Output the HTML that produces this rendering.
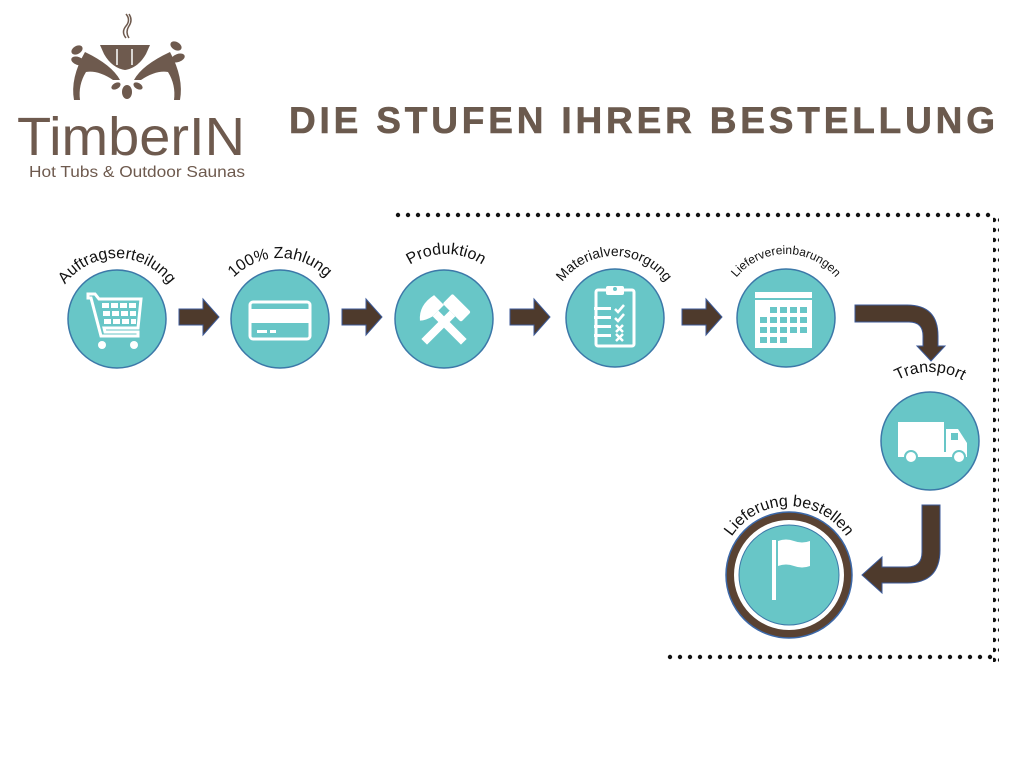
<!DOCTYPE html>
<html><head><meta charset="utf-8"><style>
html,body{margin:0;padding:0;background:#fff;width:1024px;height:768px;overflow:hidden}
svg{display:block}
</style></head><body>
<svg width="1024" height="768" viewBox="0 0 1024 768" xmlns="http://www.w3.org/2000/svg">
<defs>
<pattern id="dh" x="395" y="212" width="10" height="6" patternUnits="userSpaceOnUse"><circle cx="3" cy="3" r="2.2" fill="#111"/></pattern>
<path id="a1" d="M53,322 A64,64 0 0 1 181,322"/>
<path id="a2" d="M216,322 A64,64 0 0 1 344,322"/>
<path id="a3" d="M380,320 A66,66 0 0 1 512,320"/>
<path id="a4" d="M550,320 A64,64 0 0 1 678,320"/>
<path id="a5" d="M722,318 A64,64 0 0 1 850,318"/>
<path id="a6" d="M862,440 A68,68 0 0 1 998,440"/>
<path id="a7" d="M720,575 A69,69 0 0 1 858,575"/>
</defs>

<!-- logo -->
<g fill="#6e5a4e">
  <path d="M100,45 L150,45 L146,54 Q138,68 125,70 Q112,68 104,54 Z"/>
  <path d="M126,38 q-5,-6 0,-12 q5,-6 0,-12" stroke="#6e5a4e" stroke-width="1.5" fill="none"/>
  <path d="M129,38 q-4,-6 0,-12 q4,-6 0,-12" stroke="#6e5a4e" stroke-width="1.5" fill="none"/>
  <path d="M85,52 Q112,65 120,80 L113,80 Q98,70 86,72 Q78,85 80,100 L74,100 Q70,78 85,52Z"/>
  <path d="M170,52 Q142,65 134,80 L141,80 Q156,70 168,72 Q176,85 174,100 L180,100 Q184,78 170,52Z"/>
  <ellipse cx="77" cy="50" rx="6" ry="4" transform="rotate(-30 77 50)"/>
  <ellipse cx="78" cy="61" rx="7" ry="4" transform="rotate(20 78 61)"/>
  <ellipse cx="176" cy="46" rx="6" ry="4" transform="rotate(30 176 46)"/>
  <ellipse cx="178" cy="58" rx="7" ry="4" transform="rotate(-20 178 58)"/>
  <ellipse cx="127" cy="92" rx="5" ry="7"/>
  <ellipse cx="116" cy="86" rx="5" ry="3" transform="rotate(-30 116 86)"/>
  <ellipse cx="138" cy="86" rx="5" ry="3" transform="rotate(30 138 86)"/>
</g>
<g stroke="#fff" stroke-width="1.5"><line x1="117" y1="49" x2="117" y2="65"/><line x1="132" y1="49" x2="132" y2="65"/></g>
<text x="17" y="155" font-family="Liberation Sans, sans-serif" font-size="54" fill="#6e5a4e" textLength="228" lengthAdjust="spacingAndGlyphs">TimberIN</text>
<text x="29" y="177" font-family="Liberation Sans, sans-serif" font-size="16" fill="#6e5a4e" textLength="216" lengthAdjust="spacingAndGlyphs">Hot Tubs &amp; Outdoor Saunas</text>

<!-- title -->
<text x="289" y="133" font-family="Liberation Sans, sans-serif" font-weight="bold" font-size="37" fill="#6b5a4e" stroke="#6b5a4e" stroke-width="0.6" textLength="706" lengthAdjust="spacing">DIE STUFEN IHRER BESTELLUNG</text>

<!-- dotted border -->
<rect x="395" y="212" width="600" height="6" fill="url(#dh)"/>
<svg x="991" y="215" width="10" height="447"><defs><pattern id="dv" width="6" height="10" patternUnits="userSpaceOnUse"><circle cx="3" cy="5" r="2.2" fill="#111"/></pattern></defs><rect x="2" width="6" height="447" fill="url(#dv)"/></svg>
<svg x="666" y="654" width="330" height="8"><defs><pattern id="db" width="10" height="6" patternUnits="userSpaceOnUse"><circle cx="4" cy="3" r="2.2" fill="#111"/></pattern></defs><rect width="330" height="6" fill="url(#db)"/></svg>

<!-- circles -->
<g fill="#68c6c7" stroke="#3c78a8" stroke-width="1.5">
  <circle cx="117" cy="319" r="49"/>
  <circle cx="280" cy="319" r="49"/>
  <circle cx="444" cy="319" r="49"/>
  <circle cx="615" cy="318" r="49"/>
  <circle cx="786" cy="318" r="49"/>
  <circle cx="930" cy="441" r="49"/>
</g>
<circle cx="789" cy="575" r="63" fill="#5a4232" stroke="#3c68a8" stroke-width="1.5"/>
<circle cx="789" cy="575" r="55" fill="#fff"/>
<circle cx="789" cy="575" r="50" fill="#68c6c7" stroke="#3c78a8" stroke-width="1"/>

<!-- arrows -->
<g fill="#4e3a2c" stroke="#3c5a98" stroke-width="1">
  <path d="M179,309 h24 v-10 l16,18 l-16,18 v-10 h-24z"/>
  <path d="M342,309 h24 v-10 l16,18 l-16,18 v-10 h-24z"/>
  <path d="M510,309 h24 v-10 l16,18 l-16,18 v-10 h-24z"/>
  <path d="M682,309 h24 v-10 l16,18 l-16,18 v-10 h-24z"/>
  <path d="M855,305 h52 q31,0 31,31 v10 h7 l-14,15 l-14,-15 h6 v-10 q0,-14 -14,-14 h-54z"/>
  <path d="M940,505 v45 q0,33 -33,33 h-25 v10 l-20,-18 l20,-18 v10 h25 q15,0 15,-15 v-47z"/>
</g>

<!-- icons -->
<g fill="#fff">
  <path d="M88,294 h7 l4,5 h42 l-3,29 h-34 l1,4 h33 v4 h-37 l-10,-38 h-3z" fill="none" stroke="#fff" stroke-width="3"/>
  <g><rect x="102" y="303" width="7" height="5"/><rect x="111" y="303" width="7" height="5"/><rect x="120" y="303" width="7" height="5"/><rect x="129" y="303" width="7" height="5"/>
  <rect x="103" y="311" width="7" height="5"/><rect x="112" y="311" width="7" height="5"/><rect x="121" y="311" width="7" height="5"/><rect x="130" y="311" width="6" height="5"/>
  <rect x="104" y="319" width="7" height="5"/><rect x="113" y="319" width="7" height="5"/><rect x="122" y="319" width="7" height="5"/><rect x="131" y="319" width="5" height="5"/></g>
  <circle cx="102" cy="345" r="4"/><circle cx="134" cy="345" r="4"/>
  <rect x="250" y="302" width="60" height="37" rx="3" fill="none" stroke="#fff" stroke-width="3"/>
  <rect x="250" y="309" width="60" height="14"/>
  <rect x="257" y="330" width="10" height="3"/><rect x="270" y="330" width="6" height="3"/>
  <g transform="translate(444,322) rotate(45)"><rect x="-4" y="-12" width="8" height="40"/><rect x="-14" y="-26" width="26" height="14" rx="2"/></g>
  <g transform="translate(444,322) rotate(-45)"><rect x="-4" y="-12" width="8" height="40"/><path d="M-16,-18 q10,-12 28,-8 v14 h-16 q-8,-2 -12,-6z"/></g>
  <rect x="596" y="290" width="38" height="56" rx="2" fill="none" stroke="#fff" stroke-width="3"/>
  <rect x="606" y="286" width="18" height="9" rx="2"/>
  <circle cx="615" cy="289" r="2" fill="#68c6c7"/>
  <rect x="594" y="307" width="17" height="3"/><rect x="594" y="316" width="17" height="3"/><rect x="594" y="325" width="17" height="3"/><rect x="594" y="334" width="17" height="3"/>
  <g stroke="#fff" stroke-width="2.5" fill="none"><path d="M615,309 l3,3 l6,-7"/><path d="M615,318 l3,3 l6,-7"/><path d="M616,325 l7,7 M623,325 l-7,7"/><path d="M616,334 l7,7 M623,334 l-7,7"/></g>
  <rect x="755" y="292" width="57" height="6"/>
  <rect x="755" y="300" width="57" height="48"/>
  <g fill="#68c6c7">
   <rect x="770" y="307" width="7" height="6"/><rect x="780" y="307" width="7" height="6"/><rect x="790" y="307" width="7" height="6"/><rect x="800" y="307" width="7" height="6"/>
   <rect x="760" y="317" width="7" height="6"/><rect x="770" y="317" width="7" height="6"/><rect x="780" y="317" width="7" height="6"/><rect x="790" y="317" width="7" height="6"/><rect x="800" y="317" width="7" height="6"/>
   <rect x="760" y="327" width="7" height="6"/><rect x="770" y="327" width="7" height="6"/><rect x="780" y="327" width="7" height="6"/><rect x="790" y="327" width="7" height="6"/><rect x="800" y="327" width="7" height="6"/>
   <rect x="760" y="337" width="7" height="6"/><rect x="770" y="337" width="7" height="6"/><rect x="780" y="337" width="7" height="6"/>
  </g>
  <rect x="898" y="422" width="46" height="30"/>
  <path d="M946,429 h12 l9,14 v13 h-21z"/>
  <rect x="898" y="452" width="69" height="5"/>
  <rect x="951" y="433" width="7" height="7" fill="#68c6c7"/>
  <circle cx="911" cy="457" r="6" stroke="#68c6c7" stroke-width="2"/>
  <circle cx="959" cy="457" r="6" stroke="#68c6c7" stroke-width="2"/>
  <rect x="772" y="540" width="4" height="60"/>
  <path d="M778,541 q8,-3 16,0 q8,3 16,0 v25 q-8,3 -16,0 q-8,-3 -16,0z"/>
</g>

<!-- labels -->
<g font-family="Liberation Sans, sans-serif" fill="#111">
  <text font-size="16"><textPath href="#a1" startOffset="50%" text-anchor="middle">Auftragserteilung</textPath></text>
  <text font-size="16"><textPath href="#a2" startOffset="50%" text-anchor="middle">100% Zahlung</textPath></text>
  <text font-size="16"><textPath href="#a3" startOffset="50%" text-anchor="middle">Produktion</textPath></text>
  <text font-size="14"><textPath href="#a4" startOffset="50%" text-anchor="middle">Materialversorgung</textPath></text>
  <text font-size="12"><textPath href="#a5" startOffset="50%" text-anchor="middle">Liefervereinbarungen</textPath></text>
  <text font-size="16"><textPath href="#a6" startOffset="50%" text-anchor="middle">Transport</textPath></text>
  <text font-size="16"><textPath href="#a7" startOffset="50%" text-anchor="middle">Lieferung bestellen</textPath></text>
</g>
</svg>
</body></html>
